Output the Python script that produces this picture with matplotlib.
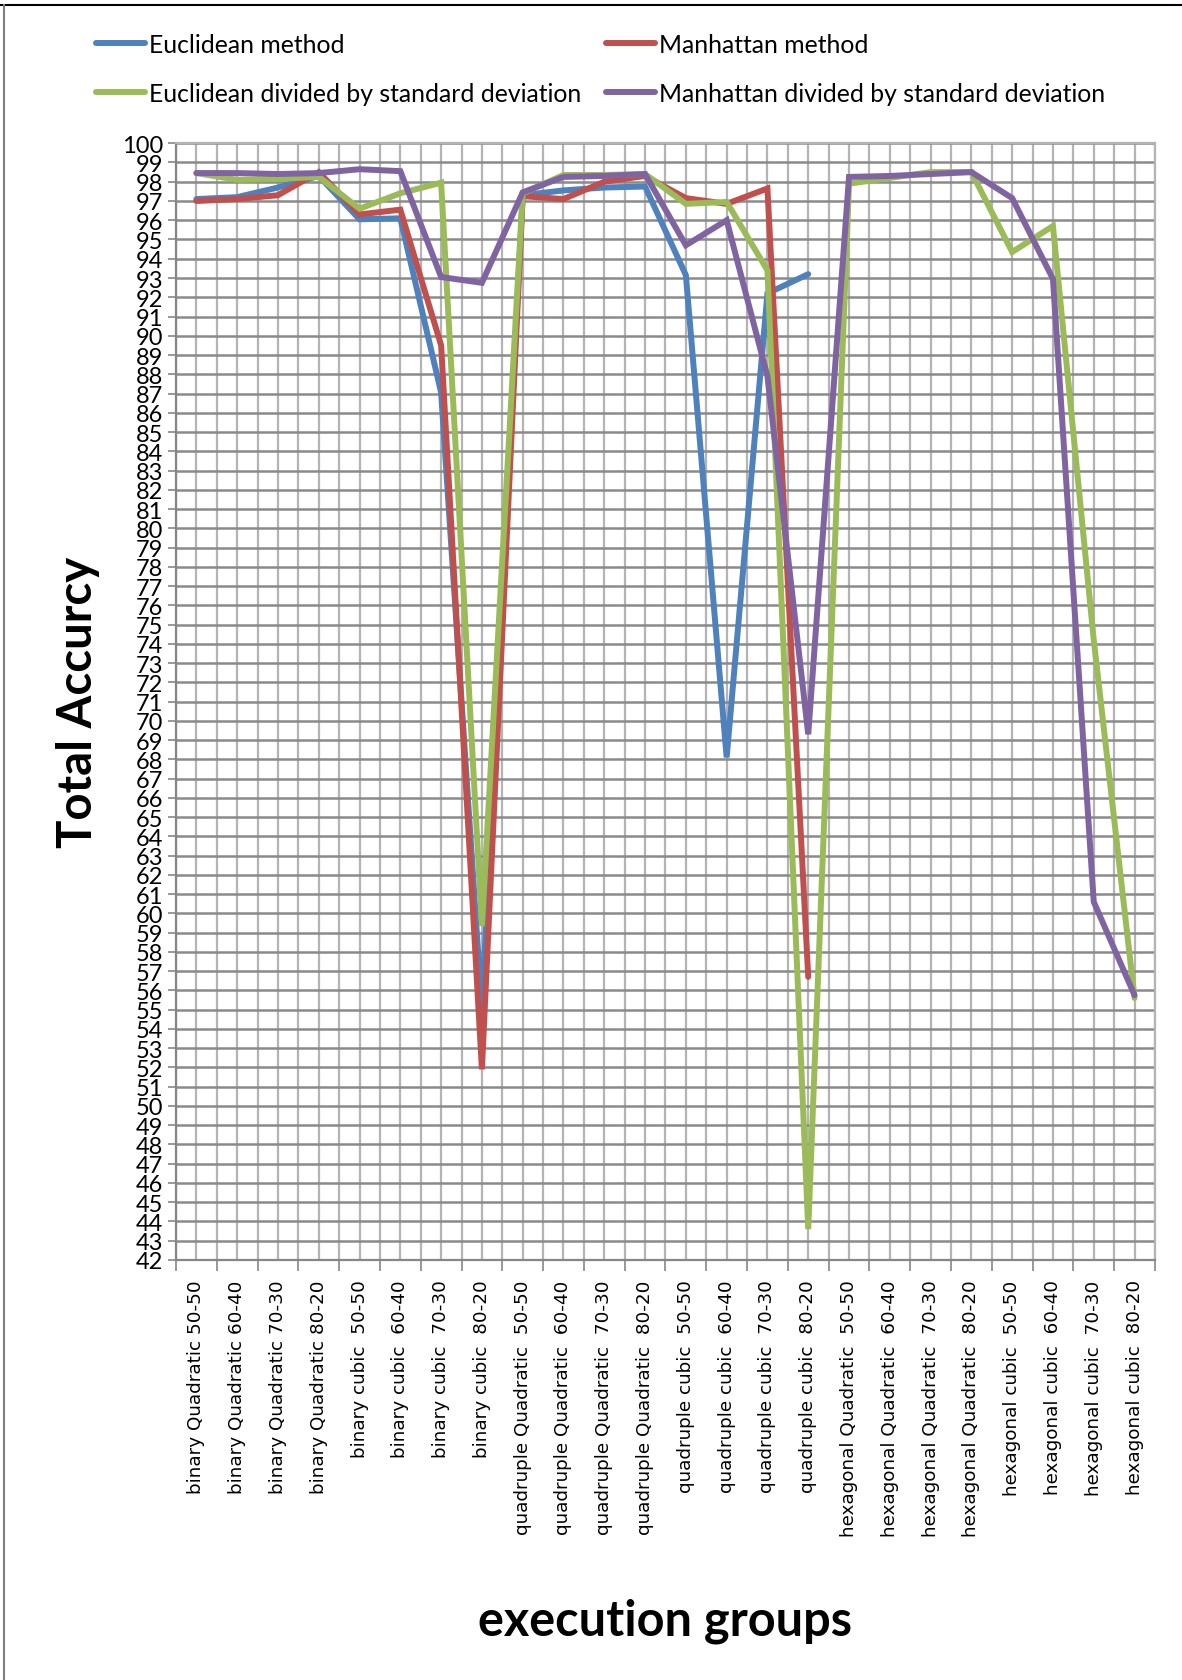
import numpy as np
import matplotlib
matplotlib.use("Agg")
import matplotlib.pyplot as plt
from matplotlib.lines import Line2D

# category labels (execution groups)
groups = [
    "binary Quadratic 50-50", "binary Quadratic 60-40",
    "binary Quadratic 70-30", "binary Quadratic 80-20",
    "binary cubic  50-50", "binary cubic  60-40",
    "binary cubic  70-30", "binary cubic  80-20",
    "quadruple Quadratic  50-50", "quadruple Quadratic  60-40",
    "quadruple Quadratic  70-30", "quadruple Quadratic  80-20",
    "quadruple cubic  50-50", "quadruple cubic  60-40",
    "quadruple cubic  70-30", "quadruple cubic  80-20",
    "hexagonal Quadratic  50-50", "hexagonal Quadratic  60-40",
    "hexagonal Quadratic  70-30", "hexagonal Quadratic  80-20",
    "hexagonal cubic  50-50", "hexagonal cubic  60-40",
    "hexagonal cubic  70-30", "hexagonal cubic  80-20",
]

nan = np.nan
euclidean = [97.1, 97.2, 97.7, 98.3, 96.05, 96.1, 87.05, 55.0,
             97.3, 97.55, 97.7, 97.75, 93.15, 68.1, 92.2, 93.2,
             nan, nan, nan, nan, nan, nan, nan, nan]
manhattan = [97.0, 97.1, 97.3, 98.5, 96.3, 96.55, 89.5, 51.9,
             97.25, 97.1, 98.0, 98.3, 97.15, 96.85, 97.65, 56.7,
             nan, nan, nan, nan, nan, nan, nan, nan]
euclid_std = [98.45, 98.1, 98.15, 98.25, 96.6, 97.4, 97.95, 59.35,
              97.4, 98.35, 98.35, 98.4, 96.85, 96.95, 93.4, 43.6,
              97.9, 98.2, 98.5, 98.5, 94.35, 95.7, 74.2, 55.6]
manhat_std = [98.45, 98.45, 98.4, 98.45, 98.65, 98.55, 93.05, 92.75,
              97.45, 98.25, 98.3, 98.4, 94.7, 96.0, 87.9, 69.3,
              98.25, 98.3, 98.4, 98.5, 97.15, 92.95, 60.6, 55.75]

series = [
    ("Euclidean method", euclidean, "#4F81BD"),
    ("Manhattan method", manhattan, "#C0504D"),
    ("Euclidean divided by standard deviation", euclid_std, "#9BBB59"),
    ("Manhattan divided by standard deviation", manhat_std, "#8064A2"),
]

plt.rcParams['font.family'] = ['Lato', 'DejaVu Sans']

fig = plt.figure(figsize=(11.82, 16.81), dpi=100)
ax = fig.add_axes([0.1489, 0.2499, 0.8282, 0.6643])

x = np.arange(len(groups))
handles = []
for name, vals, col in series:
    h, = ax.plot(x, vals, color=col, lw=4.3, label=name,
                 solid_joinstyle='miter', solid_capstyle='round')
    handles.append(h)

ax.set_xlim(-0.5, len(groups) - 0.5)
ax.set_ylim(42, 100)
ax.set_yticks(np.arange(42, 101, 1))
ax.tick_params(axis='y', labelsize=17, length=6, width=1.2,
               color='#868686', pad=3)

# boundaries carry the tick marks, centres carry the labels
ax.set_xticks(np.arange(-0.5, len(groups), 1))
ax.set_xticklabels([])
ax.set_xticks(x, minor=True)
ax.set_xticklabels(groups, minor=True, rotation=90,
                   family='DejaVu Sans', fontsize=13.2)
ax.tick_params(axis='x', which='major', length=8, width=1.2,
               color='#868686')
ax.tick_params(axis='x', which='minor', length=0, pad=14)

ax.grid(axis='y', which='major', color='#8a8a8a', lw=1.8)
ax.grid(axis='x', which='both', color='#b4b4b4', lw=1.6)
ax.set_axisbelow(True)

for side in ['left', 'bottom']:
    ax.spines[side].set_color('#868686')
    ax.spines[side].set_linewidth(1.6)
for side in ['top', 'right']:
    ax.spines[side].set_color('#b4b4b4')
    ax.spines[side].set_linewidth(1.6)

ax.set_ylabel("Total Accurcy", fontsize=34, fontweight='bold', labelpad=16)
ax.set_xlabel("execution groups", fontsize=35, fontweight='bold', labelpad=44)

# legend fills column by column, so interleave to get rows as in the chart
order = [0, 2, 1, 3]
fig.legend([handles[i] for i in order], [series[i][0] for i in order],
           loc='upper left', bbox_to_anchor=(0.062, 0.993), ncol=2,
           frameon=False, fontsize=17.8, handlelength=2.0, handletextpad=0.15,
           columnspacing=1.0, labelspacing=1.05)

# frame of the original screenshot
fig.add_artist(Line2D([0, 1], [1 - 6 / 1681] * 2, color='black', lw=1.5,
                      transform=fig.transFigure))
fig.add_artist(Line2D([4 / 1182] * 2, [0, 1 - 6 / 1681], color='#808080',
                      lw=1.5, transform=fig.transFigure))

fig.savefig("out.png", dpi=100)
